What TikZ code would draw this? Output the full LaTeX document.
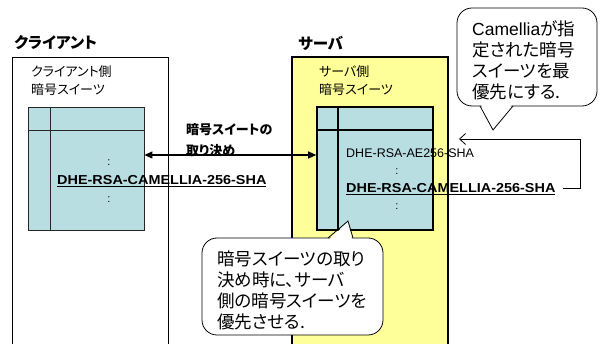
\documentclass[tikz,border=0pt]{standalone}
\usepackage{fontspec}
\setmainfont{Liberation Sans}
\newfontfamily\jp[RawFeature=+palt]{Noto Sans CJK JP}
\newfontfamily\suitebold[FakeStretch=1.11]{Liberation Sans Bold}
\usetikzlibrary{arrows.meta}
\definecolor{tblblue}{RGB}{185,222,226}
\definecolor{srvyellow}{RGB}{255,255,153}
\begin{document}
\begin{tikzpicture}[x=1pt,y=-1pt,
  titletext/.style={inner sep=0pt,anchor=west,font=\jp\bfseries\fontsize{15.5}{18}\selectfont},
  boxlabel/.style={inner sep=0pt,anchor=north west,align=left,font=\jp\fontsize{13}{18}\selectfont},
  arrowlabel/.style={inner sep=0pt,anchor=north west,align=left,font=\jp\bfseries\fontsize{13}{21}\selectfont},
  calltext/.style={inner sep=0pt,anchor=north west,align=left,font=\jp\fontsize{17.5}{21}\selectfont},
  ctable/.style={draw=black!85,line width=0.8pt,fill=tblblue,minimum width=116pt,minimum height=123pt,inner sep=0pt},
  stable/.style={draw=black,line width=1.6pt,fill=tblblue,minimum width=116pt,minimum height=123pt,inner sep=0pt},
  suite/.style={inner sep=0pt,anchor=base west,font=\fontsize{12.5}{15}\selectfont},
  bsuite/.style={inner sep=0pt,anchor=base west,font=\suitebold\fontsize{13}{15}\selectfont},
  dotsym/.style={inner sep=0pt,font=\fontsize{11}{13}\selectfont},
  callout/.style={draw=black,line width=0.8pt,fill=white,rounded corners=15pt},
  dblarrow/.style={line width=1.2pt,{Triangle[length=8pt,width=7pt]}-{Triangle[length=8pt,width=7pt]}},
  connector/.style={line width=0.8pt,-{Straight Barb[length=6pt,width=11pt]}}
]
\useasboundingbox (0,0) rectangle (600,344);
\fill[white] (0,0) rectangle (600,344);

% server area
\fill[srvyellow] (292,57) rectangle (448,344);
\draw[line width=1.6pt] (292,344) -- (292,57) -- (448,57) -- (448,344);
% client area
\draw[line width=0.8pt] (12,344) -- (12,57) -- (168,57) -- (168,344);

% titles
\node[titletext] (ctitle) at (14,43) {クライアント};
\node[titletext] (stitle) at (298,43) {サーバ};

% labels
\node[boxlabel] (clabel) at (31,65.5) {クライアント側\\暗号スイーツ};
\node[boxlabel] (slabel) at (319,65.5) {サーバ側\\暗号スイーツ};

% tables
\node[ctable] (ct) at (86,168.5) {};
\draw[line width=0.8pt,black!85] ([xshift=23pt]ct.north west) -- ([xshift=23pt]ct.south west);
\draw[line width=0.8pt,black!85] ([yshift=-24pt]ct.north west) -- ([yshift=-24pt]ct.north east);
\node[stable] (st) at (375,168.5) {};
\draw[line width=1.6pt] ([xshift=22pt]st.north west) -- ([xshift=22pt]st.south west);
\draw[line width=1.6pt] ([yshift=-24pt]st.north west) -- ([yshift=-24pt]st.north east);

% client suite texts
\node[dotsym] (cd1) at (109,163) {:};
\node[bsuite] (cs) at (57,184.5) {\underline{DHE-RSA-CAMELLIA-256-SHA}};
\node[dotsym] (cd2) at (109,200) {:};

% server suite texts
\node[suite] (s1) at (346,158) {DHE-RSA-AE256-SHA};
\node[dotsym] (sd1) at (397,172) {:};
\node[bsuite] (s2) at (346,193) {\underline{DHE-RSA-CAMELLIA-256-SHA}};
\node[dotsym] (sd2) at (397,207) {:};

% negotiation arrow
\coordinate (ay) at (0,155);
\draw[dblarrow] (ay -| ct.east) -- (ay -| st.west);
\node[arrowlabel] (alabel) at (186,123) {暗号スイートの\\取り決め};

% priority connector
\coordinate (cstart) at (563,188);
\coordinate (ccorner) at (580,139);
\coordinate (ctip) at (459,139);
\draw[connector] (cstart) -- (cstart -| ccorner) -- (ccorner) -- (ctip);

% callout 1
\draw[callout] (457,8) rectangle (597,106);
\fill[white] (481,104.5) -- (493,129) -- (512,104.5) -- cycle;
\draw[line width=0.8pt,line join=miter] (480,106) -- (493,130) -- (513,106);
\node[calltext] (co1) at (472,20) {{\rmfamily Camellia}が指\\定された暗号\\スイーツを最\\優先にする.};

% callout 2
\draw[callout] (202,238) rectangle (383,335);
\fill[white] (329,239.5) -- (348,222) -- (352,239.5) -- cycle;
\draw[line width=0.8pt,line join=miter] (328,238) -- (348,221) -- (353,238);
\node[calltext] (co2) at (217,251) {暗号スイーツの取り\\決め時に、サーバ\\側の暗号スイーツを\\優先させる.};
\end{tikzpicture}
\end{document}
